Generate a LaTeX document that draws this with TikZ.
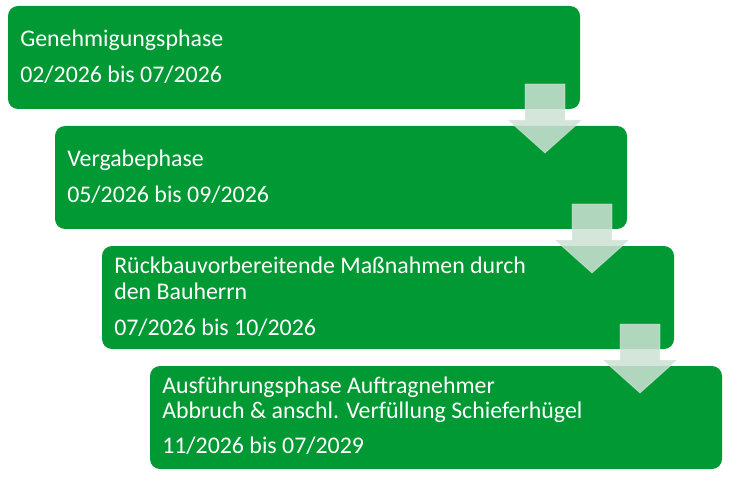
\documentclass[tikz,border=0pt]{standalone}
\usepackage{fontspec}
\setmainfont{Carlito}
\definecolor{boxgreen}{RGB}{0,153,51}
\definecolor{arrowfill}{RGB}{205,226,212}
\begin{document}
\begin{tikzpicture}[x=0.75pt,y=-0.75pt,
  phasebox/.style={fill=boxgreen, draw=none, rounded corners=7.5pt, minimum width=429pt, minimum height=77.25pt, inner sep=0pt, outer sep=0pt, anchor=north west},
  txt/.style={text=white, font=\fontsize{17.9}{21}\selectfont, inner sep=0pt, anchor=base west},
  downarrow/.style={fill=arrowfill, fill opacity=0.86, draw=white, draw opacity=0.35, line width=0.6pt}]
\useasboundingbox (0,0) rectangle (739,481);
\node[phasebox] (b1) at (8,6) {};
\node[phasebox] (b2) at (55,126) {};
\node[phasebox] (b3) at (102,246) {};
\node[phasebox] (b4) at (150,366) {};
% arrows
\foreach \cx/\ty [count=\i] in {545/84, 592/204, 640/324}{
  \draw[downarrow] (\cx-20,\ty) -- (\cx+20,\ty) -- (\cx+20,\ty+36) -- (\cx+37,\ty+36) -- (\cx,\ty+69) -- (\cx-37,\ty+36) -- (\cx-20,\ty+36) -- cycle;
}
% texts
\node[txt] (t1a) at (20,47) {Genehmigungsphase};
\node[txt] (t1b) at (20,83) {02/2026 bis 07/2026};
\node[txt] (t2a) at (67,167) {Vergabephase};
\node[txt] (t2b) at (67,203) {05/2026 bis 09/2026};
\node[txt] (t3a) at (114,273) {Rückbauvorbereitende Maßnahmen durch};
\node[txt] (t3b) at (114,299) {den Bauherrn};
\node[txt] (t3c) at (114,335) {07/2026 bis 10/2026};
\node[txt] (t4a) at (162,393) {Ausführungsphase Auftragnehmer};
\node[txt] (t4b) at (162,418) {Abbruch \& anschl. Verfüllung Schieferhügel};
\node[txt] (t4c) at (162,453) {11/2026 bis 07/2029};
\end{tikzpicture}
\end{document}
